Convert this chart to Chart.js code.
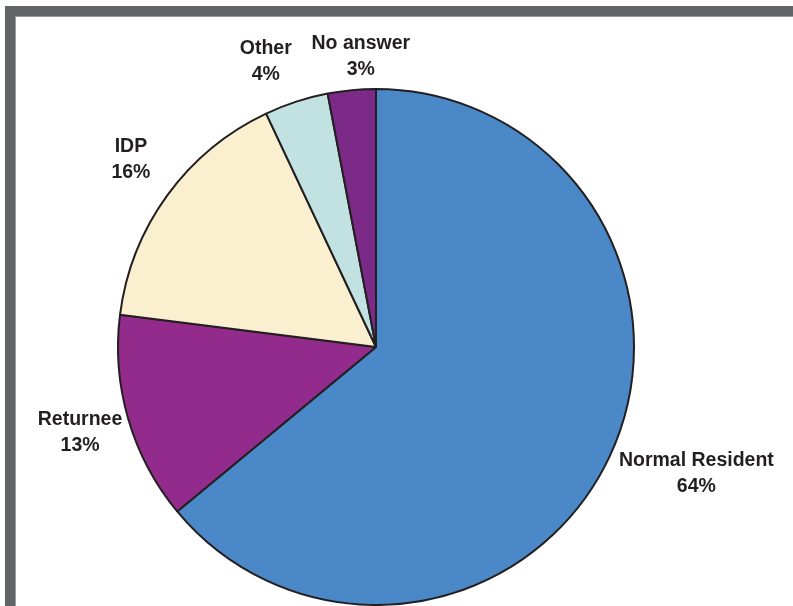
<!DOCTYPE html>
<html>
<head>
<meta charset="utf-8">
<script src="https://cdn.jsdelivr.net/npm/chart.js@4.4.0/dist/chart.umd.min.js"></script>
<style>
  html, body { margin: 0; padding: 0; background: #fff; }
  #wrap { position: relative; width: 793px; height: 606px; overflow: hidden; }
  #frame {
    position: absolute; left: 5px; top: 6px; right: 0; bottom: 0;
    border-left: 10px solid #636466; border-top: 10px solid #636466;
    box-shadow: inset 1px 1px 0 #9a9a9c;
  }
  canvas { position: absolute; left: 0; top: 0; }
</style>
</head>
<body>
<div id="wrap">
  <div id="frame"></div>
  <canvas id="chartContainer" width="793" height="606"></canvas>
</div>
<script>
// Data
const categories = ['Normal Resident', 'Returnee', 'IDP', 'Other', 'No answer'];
const shares = [64, 13, 16, 4, 3];
const sliceColors = ['#4a88c7', '#922b8c', '#faf0d0', '#c2e2e2', '#7b2a88'];

// Draw the category name and percent outside each slice
const outsideLabels = {
    id: 'outsideLabels',
    afterDraw(chart, args, opts) {
        const ctx = chart.ctx;
        const meta = chart.getDatasetMeta(0);
        ctx.save();
        ctx.font = 'bold 19.5px "Liberation Sans", Arial, sans-serif';
        ctx.fillStyle = '#231f20';
        ctx.textAlign = 'center';
        ctx.textBaseline = 'middle';
        meta.data.forEach((arc, i) => {
            const mid = (arc.startAngle + arc.endAngle) / 2;
            const dx = Math.cos(mid), dy = Math.sin(mid);
            const lines = [categories[i], shares[i] + '%'];
            const halfW = Math.max(...lines.map(t => ctx.measureText(t).width)) / 2;
            const halfH = 25;
            const dist = arc.outerRadius + 12 + Math.abs(dx) * halfW + Math.abs(dy) * halfH;
            const nudge = opts.nudge[i] || [0, 0];
            const x = arc.x + dx * dist + nudge[0];
            const y = arc.y + dy * dist + nudge[1];
            ctx.fillText(lines[0], x, y - 13);
            ctx.fillText(lines[1], x, y + 13);
        });
        ctx.restore();
    }
};

const ctx = document.getElementById('chartContainer').getContext('2d');
const chart = new Chart(ctx, {
    type: 'pie',
    data: {
        labels: categories,
        datasets: [{
            data: shares,
            backgroundColor: sliceColors,
            borderColor: '#231f20',
            borderWidth: 2
        }]
    },
    options: {
        responsive: false,
        animation: false,
        layout: { padding: { top: 88, bottom: 0, left: 117, right: 158 } },
        plugins: {
            legend: { display: false },
            tooltip: { enabled: false },
            outsideLabels: {
                nudge: [[3, -23], [9, -3], [-2, -11], [-17, 2], [13, 8]]
            }
        }
    },
    plugins: [outsideLabels]
});
</script>
</body>
</html>
